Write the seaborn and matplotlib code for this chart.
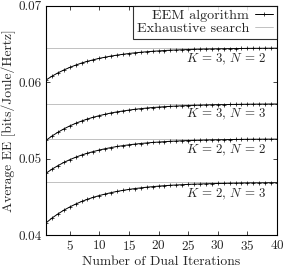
import numpy as np
import pandas as pd
import seaborn as sns
import matplotlib.pyplot as plt
from matplotlib.lines import Line2D

# Data
iterations = list(range(1, 41))

ee_k3_n2 = [0.06030, 0.06080, 0.06123, 0.06161, 0.06195, 0.06225, 0.06252, 0.06275,
            0.06295, 0.06314, 0.06329, 0.06344, 0.06356, 0.06367, 0.06377, 0.06386,
            0.06393, 0.06400, 0.06406, 0.06411, 0.06416, 0.06420, 0.06423, 0.06426,
            0.06429, 0.06432, 0.06434, 0.06436, 0.06437, 0.06439, 0.06440, 0.06441,
            0.06442, 0.06443, 0.06444, 0.06445, 0.06445, 0.06446, 0.06446, 0.06447]
ee_k3_n3 = [0.05240, 0.05297, 0.05346, 0.05390, 0.05429, 0.05463, 0.05493, 0.05520,
            0.05543, 0.05564, 0.05582, 0.05599, 0.05613, 0.05625, 0.05636, 0.05647,
            0.05655, 0.05663, 0.05670, 0.05675, 0.05681, 0.05685, 0.05689, 0.05693,
            0.05696, 0.05699, 0.05701, 0.05704, 0.05706, 0.05708, 0.05708, 0.05710,
            0.05711, 0.05712, 0.05713, 0.05714, 0.05715, 0.05715, 0.05716, 0.05716]
ee_k2_n2 = [0.04810, 0.04863, 0.04909, 0.04951, 0.04987, 0.05019, 0.05048, 0.05072,
            0.05094, 0.05114, 0.05131, 0.05146, 0.05160, 0.05171, 0.05182, 0.05191,
            0.05199, 0.05206, 0.05213, 0.05218, 0.05223, 0.05228, 0.05231, 0.05235,
            0.05238, 0.05240, 0.05242, 0.05245, 0.05247, 0.05248, 0.05249, 0.05251,
            0.05252, 0.05253, 0.05254, 0.05255, 0.05255, 0.05256, 0.05256, 0.05256]
ee_k2_n3 = [0.04160, 0.04223, 0.04277, 0.04326, 0.04368, 0.04406, 0.04440, 0.04469,
            0.04495, 0.04518, 0.04538, 0.04556, 0.04572, 0.04586, 0.04598, 0.04609,
            0.04618, 0.04627, 0.04634, 0.04641, 0.04647, 0.04652, 0.04656, 0.04660,
            0.04664, 0.04667, 0.04669, 0.04672, 0.04674, 0.04676, 0.04677, 0.04679,
            0.04680, 0.04682, 0.04683, 0.04684, 0.04684, 0.04685, 0.04686, 0.04686]

exhaustive = [0.0645, 0.0572, 0.0526, 0.0469]
labels = [r"$K\,=\,3,\,N\,=\,2$", r"$K\,=\,3,\,N\,=\,3$",
          r"$K\,=\,2,\,N\,=\,2$", r"$K\,=\,2,\,N\,=\,3$"]
label_y = [0.06266, 0.05546, 0.05074, 0.04498]

sns.set_style("ticks")
plt.rcParams['font.family'] = ['cmr10', 'DejaVu Serif']
plt.rcParams['mathtext.fontset'] = 'cm'
plt.rcParams['axes.formatter.use_mathtext'] = True

df = pd.DataFrame({
    "iter": iterations * 4,
    "ee": ee_k3_n2 + ee_k3_n3 + ee_k2_n2 + ee_k2_n3,
    "setting": sum([[lab] * len(iterations) for lab in labels], []),
})

fig = plt.figure(figsize=(2.86, 2.69), dpi=100)
ax = fig.add_axes([0.161, 0.126, 0.8075, 0.852])

# exhaustive search reference lines
for v in exhaustive:
    ax.axhline(v, color="#a8a8a8", lw=0.5, zorder=1)

sns.lineplot(data=df, x="iter", y="ee", units="setting", estimator=None,
             color="black", lw=0.7, marker="+", markersize=3.5, mew=0.5,
             mec="black", legend=False, ax=ax, zorder=2)

for lab, y in zip(labels, label_y):
    ax.text(38.1, y, lab, ha="right", va="baseline", fontsize=9.3)

ax.set_xlim(1, 40)
ax.set_ylim(0.04, 0.07)
ax.set_xticks([5, 10, 15, 20, 25, 30, 35, 40])
ax.set_yticks([0.04, 0.05, 0.06, 0.07])
ax.set_yticklabels(["0.04", "0.05", "0.06", "0.07"])
ax.tick_params(direction="in", top=True, right=True, length=3, width=0.6,
               labelsize=9.5, pad=3)
for s in ax.spines.values():
    s.set_linewidth(0.8)
    s.set_color("black")

ax.set_xlabel("Number of Dual Iterations", fontsize=9.8, labelpad=2)
ax.set_ylabel("Average EE [bits/Joule/Hertz]", fontsize=9.8, labelpad=2)

handles = [
    Line2D([], [], color="black", lw=0.7, marker="+", markersize=3.5, mew=0.5),
    Line2D([], [], color="#a8a8a8", lw=0.5),
]
leg = ax.legend(handles, ["EEM algorithm", "Exhaustive search"], loc="upper right",
                markerfirst=False, fontsize=10.2, frameon=True, fancybox=False,
                borderaxespad=0, handlelength=1.3, handletextpad=0.4,
                labelspacing=0.0, borderpad=0.25, numpoints=1)
leg.get_frame().set_edgecolor("black")
leg.get_frame().set_linewidth(0.8)

fig.savefig("out.png", dpi=100)
